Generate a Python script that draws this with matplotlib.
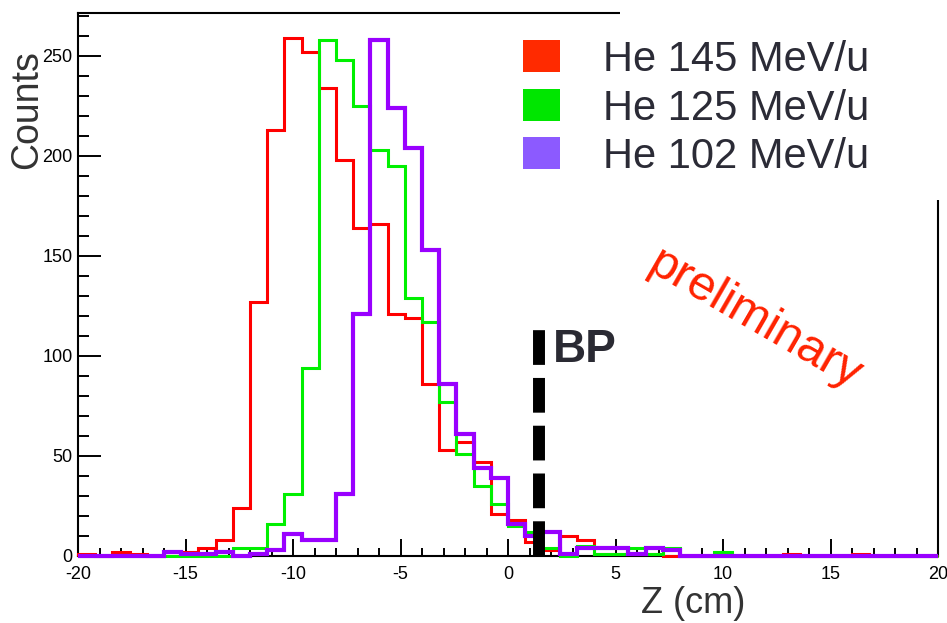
import numpy as np
import matplotlib.pyplot as plt
from matplotlib.patches import Rectangle
from matplotlib.ticker import MultipleLocator

plt.rcParams['font.family'] = ['Liberation Sans', 'DejaVu Sans']
plt.rcParams['lines.scale_dashes'] = False
plt.rcParams['axes.unicode_minus'] = False

# 50 bins of 0.8 cm from -20 to 20 cm
edges = np.linspace(-20, 20, 51)

he145 = [1, 0, 2, 1, 0, 2, 2, 4, 8, 24, 127, 213, 259, 252, 234, 198, 164, 166, 121, 119,
         86, 53, 57, 47, 21, 18, 7, 3, 10, 8, 1, 1, 1, 1, 0, 0, 0, 0, 0, 0,
         0, 1, 0, 0, 0, 1, 0, 0, 0, 0]
he125 = [0, 0, 0, 0, 0, 0, 0, 0, 0, 4, 4, 16, 31, 94, 258, 248, 225, 203, 195, 129,
         117, 77, 51, 35, 26, 15, 12, 4, 0, 5, 1, 1, 4, 1, 4, 0, 0, 2, 0, 0,
         0, 0, 0, 0, 0, 0, 0, 0, 0, 0]
he102 = [0, 0, 0, 0, 0, 2, 1, 1, 2, 0, 1, 3, 11, 8, 8, 31, 121, 258, 224, 204,
         153, 86, 61, 44, 39, 16, 10, 12, 1, 4, 4, 4, 1, 4, 3, 0, 0, 0, 0, 0,
         0, 0, 0, 0, 0, 0, 0, 0, 0, 0]

labels = ['He 145 MeV/u', 'He 125 MeV/u', 'He 102 MeV/u']
line_colors = ['#ff0000', '#00f000', '#9900ff']
box_colors = ['#ff2a00', '#00e600', '#8c5aff']
bragg_peak = 1.44
bp_height = 114

fig = plt.figure(figsize=(9.47, 6.23), dpi=100)
ax = fig.add_axes([78/947, 67/623, 860/947, 543/623])

ax.stairs(he145, edges, color=line_colors[0], lw=2.2, zorder=3, clip_on=False)
ax.stairs(he125, edges, color=line_colors[1], lw=2.2, zorder=3.1, clip_on=False)
ax.stairs(he102, edges, color=line_colors[2], lw=3.0, zorder=3.2, clip_on=False)

# Bragg peak marker
bp, = ax.plot([bragg_peak, bragg_peak], [0, bp_height], color='black', lw=8.6,
              solid_capstyle='butt', dash_capstyle='butt', zorder=4, clip_on=False)
bp.set_dashes((25, 9.4))
ax.text(bragg_peak + 0.65, 97, 'BP', fontsize=33, fontweight='bold', color='#2a2a33',
        ha='left', va='baseline')

ax.text(11.5, 118, 'preliminary', fontsize=35, color='#ff2200', rotation=-30,
        ha='center', va='center', rotation_mode='anchor')

ax.set_xlim(-20, 20)
ax.set_ylim(0, 271.5)
ax.xaxis.set_major_locator(MultipleLocator(5))
ax.xaxis.set_minor_locator(MultipleLocator(1))
ax.yaxis.set_major_locator(MultipleLocator(50))
ax.yaxis.set_minor_locator(MultipleLocator(10))
ax.tick_params(axis='y', which='major', direction='in', length=16.5, width=1.4, pad=4,
               labelsize=13)
ax.tick_params(axis='y', which='minor', direction='in', length=8, width=1.4)
ax.tick_params(axis='x', which='major', direction='in', length=12, width=1.4, pad=7.5,
               labelsize=13)
ax.tick_params(axis='x', which='minor', direction='in', length=6, width=1.4)
for lab in ax.get_xticklabels() + ax.get_yticklabels():
    lab.set_family(['Liberation Sans Narrow', 'Liberation Sans'])
for sp in ax.spines.values():
    sp.set_linewidth(1.5)

fig.text(27/947, 1 - 110/623, 'Counts', fontsize=27, color='#333333', rotation=90,
         ha='center', va='center')
fig.text(693/947, 1 - 613/623, 'Z (cm)', fontsize=26, color='#333333',
         ha='center', va='baseline')

# white legend area over the top-right corner of the frame
fig.patches.append(Rectangle((620/947, 1 - 200/623), 1, 1, transform=fig.transFigure,
                             facecolor='white', edgecolor='none', zorder=5))
rows = [56, 105, 153]
for y, lab, c in zip(rows, labels, box_colors):
    fig.patches.append(Rectangle((523/947, 1 - (y + 16)/623), 37/947, 32/623,
                                 transform=fig.transFigure, facecolor=c,
                                 edgecolor='none', zorder=6))
    fig.text(603/947, 1 - (y + 15)/623, lab, fontsize=30, color='#2b2b36',
             ha='left', va='baseline', zorder=6)

fig.savefig('out.png', dpi=100)
